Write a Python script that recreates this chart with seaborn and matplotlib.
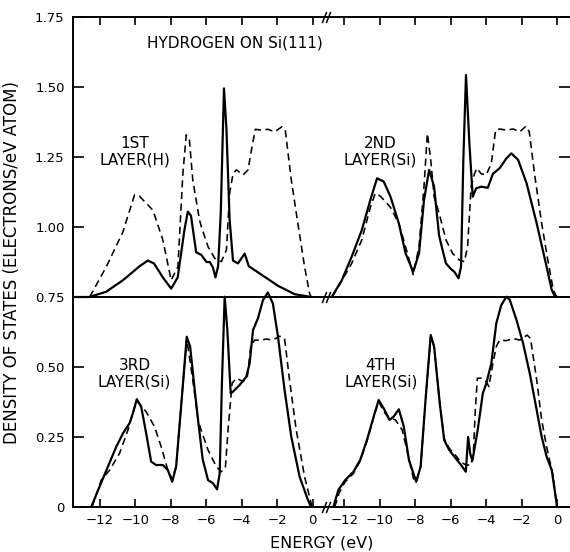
import pandas as pd
import matplotlib
matplotlib.use("Agg")
import matplotlib.pyplot as plt
import seaborn as sns

# ---- densities of states (electrons / eV atom) versus energy (eV) ----
# solid: full calculation, dashed: comparison curve
l1_solid_e = [-13.5, -12.6, -11.64, -10.7, -9.76, -9.3, -8.95, -8.45, -7.98, -7.61, -7.23, -7.04,
              -6.86, -6.57, -6.27, -5.99, -5.8, -5.62, -5.48, -5.33, -5.18, -5.0, -4.86, -4.68,
              -4.49, -4.21, -3.83, -3.6, -2.89, -1.95, -1.01, -0.08]
l1_solid_d = [0.0, 0.0, 0.019, 0.06, 0.11, 0.13, 0.12, 0.07, 0.03, 0.07, 0.24, 0.305,
              0.29, 0.16, 0.15, 0.125, 0.125, 0.105, 0.07, 0.11, 0.30, 0.745, 0.6, 0.275,
              0.13, 0.12, 0.155, 0.11, 0.08, 0.04, 0.01, 0.0]
l1_dash_e = [-12.58, -11.64, -10.7, -10.05, -9.77, -9.01, -8.45, -7.98, -7.6, -7.32, -7.13, -6.95,
             -6.76, -6.38, -6.27, -5.9, -5.52, -5.15, -4.86, -4.68, -4.49, -4.3, -3.92, -3.64,
             -3.45, -3.23, -2.89, -2.52, -2.14, -1.73, -1.54, -1.2, -0.83, -0.45, -0.17, -0.08]
l1_dash_d = [0.0, 0.108, 0.233, 0.364, 0.36, 0.31, 0.204, 0.06, 0.108, 0.44, 0.579, 0.56,
             0.418, 0.275, 0.25, 0.18, 0.138, 0.126, 0.168, 0.37, 0.44, 0.454, 0.436, 0.454,
             0.525, 0.599, 0.596, 0.599, 0.59, 0.608, 0.596, 0.418, 0.263, 0.108, 0.013, 0.0]

l2_solid_e = [-12.72, -12.15, -11.59, -11.02, -10.54, -10.16, -9.78, -9.4, -8.93, -8.55, -8.12,
              -7.79, -7.51, -7.22, -6.94, -6.66, -6.47, -6.27, -5.99, -5.8, -5.56, -5.42, -5.29,
              -5.14, -4.95, -4.76, -4.57, -4.28, -3.91, -3.62, -3.24, -2.86, -2.58, -2.2, -1.72,
              -1.15, -0.59, -0.3, -0.11, 0.0]
l2_solid_d = [0.0, 0.06, 0.144, 0.239, 0.346, 0.424, 0.412, 0.358, 0.263, 0.156, 0.09,
              0.156, 0.346, 0.454, 0.394, 0.22, 0.17, 0.12, 0.10, 0.09, 0.067, 0.108, 0.49,
              0.793, 0.55, 0.358, 0.388, 0.394, 0.39, 0.44, 0.46, 0.495, 0.513, 0.49, 0.406,
              0.263, 0.108, 0.025, 0.001, 0.0]
l2_dash_e = [-12.7, -12.34, -11.59, -11.02, -10.54, -10.26, -9.97, -9.4, -8.93, -8.55, -8.12,
             -7.79, -7.51, -7.32, -7.13, -6.94, -6.66, -6.27, -5.9, -5.52, -5.23, -5.05, -4.85,
             -4.66, -4.53, -4.28, -4.0, -3.71, -3.47, -3.24, -2.86, -2.48, -2.1, -1.76, -1.57,
             -1.25, -0.87, -0.49, -0.21, -0.02]
l2_dash_d = [0.0, 0.037, 0.12, 0.204, 0.32, 0.37, 0.36, 0.32, 0.263, 0.18, 0.08,
             0.18, 0.394, 0.584, 0.49, 0.358, 0.30, 0.204, 0.156, 0.132, 0.126, 0.18, 0.394,
             0.44, 0.46, 0.44, 0.436, 0.477, 0.596, 0.6, 0.596, 0.6, 0.59, 0.61, 0.59,
             0.43, 0.263, 0.12, 0.025, 0.0]

l3_solid_e = [-12.49, -12.02, -11.55, -11.08, -10.7, -10.33, -10.14, -9.92, -9.67, -9.39, -9.11,
              -8.83, -8.45, -8.17, -7.92, -7.7, -7.42, -7.1, -6.91, -6.65, -6.46, -6.2, -5.9,
              -5.62, -5.39, -5.24, -5.11, -4.96, -4.81, -4.62, -4.49, -4.11, -3.74, -3.55, -3.36,
              -3.08, -2.8, -2.52, -2.24, -1.95, -1.58, -1.2, -0.73, -0.26, -0.08]
l3_solid_d = [0.0, 0.073, 0.144, 0.215, 0.263, 0.299, 0.335, 0.385, 0.358, 0.263, 0.162,
              0.15, 0.15, 0.132, 0.09, 0.144, 0.358, 0.608, 0.573, 0.418, 0.31, 0.17, 0.096,
              0.085, 0.063, 0.12, 0.454, 0.751, 0.632, 0.406, 0.412, 0.436, 0.465, 0.513, 0.632,
              0.674, 0.739, 0.766, 0.727, 0.608, 0.418, 0.251, 0.108, 0.025, 0.0]
l3_dash_e = [-12.45, -11.93, -11.45, -10.89, -10.42, -10.14, -9.92, -9.39, -8.92, -8.54, -8.17,
             -7.92, -7.7, -7.42, -7.1, -6.76, -6.46, -6.29, -5.9, -5.43, -5.15, -4.92, -4.77,
             -4.54, -4.3, -3.92, -3.68, -3.49, -3.27, -2.89, -2.6, -2.24, -1.86, -1.58, -1.3,
             -0.92, -0.45, -0.08, 0.0]
l3_dash_d = [0.0, 0.096, 0.132, 0.192, 0.275, 0.335, 0.38, 0.34, 0.287, 0.215, 0.132,
             0.1, 0.144, 0.358, 0.6, 0.454, 0.31, 0.275, 0.204, 0.144, 0.126, 0.14, 0.275,
             0.442, 0.46, 0.448, 0.465, 0.573, 0.596, 0.596, 0.6, 0.596, 0.61, 0.602, 0.454,
             0.275, 0.108, 0.013, 0.0]

l4_solid_e = [-12.63, -12.34, -11.96, -11.49, -11.11, -10.73, -10.35, -10.07, -9.78, -9.46, -9.22,
              -8.93, -8.65, -8.36, -7.95, -7.7, -7.41, -7.13, -6.94, -6.62, -6.37, -6.09, -5.8,
              -5.42, -5.15, -5.02, -4.9, -4.78, -4.48, -4.19, -4.0, -3.71, -3.43, -3.15, -2.86,
              -2.67, -2.29, -1.92, -1.54, -1.15, -0.87, -0.59, -0.3, -0.11, 0.0]
l4_solid_d = [0.0, 0.061, 0.096, 0.126, 0.168, 0.239, 0.323, 0.382, 0.352, 0.311, 0.323,
              0.349, 0.287, 0.168, 0.09, 0.144, 0.394, 0.614, 0.573, 0.37, 0.239, 0.204, 0.18,
              0.15, 0.126, 0.25, 0.19, 0.165, 0.275, 0.406, 0.44, 0.513, 0.656, 0.721, 0.751,
              0.74, 0.668, 0.585, 0.477, 0.346, 0.251, 0.18, 0.132, 0.049, 0.0]
l4_dash_e = [-12.55, -12.3, -11.96, -11.49, -11.11, -10.73, -10.35, -10.07, -9.78, -9.5, -9.12,
             -8.74, -8.46, -8.1, -7.95, -7.7, -7.41, -7.13, -6.94, -6.62, -6.37, -6.09, -5.8,
             -5.42, -5.14, -4.85, -4.72, -4.61, -4.5, -4.28, -4.0, -3.85, -3.62, -3.43, -3.24,
             -2.86, -2.48, -2.1, -1.69, -1.5, -1.15, -0.87, -0.59, -0.21, -0.05, 0.0]
l4_dash_d = [0.0, 0.05, 0.09, 0.12, 0.165, 0.235, 0.32, 0.378, 0.34, 0.32, 0.311,
             0.275, 0.2, 0.1, 0.09, 0.144, 0.39, 0.61, 0.573, 0.37, 0.245, 0.21, 0.19,
             0.16, 0.15, 0.15, 0.2, 0.35, 0.46, 0.46, 0.448, 0.43, 0.513, 0.573, 0.596,
             0.594, 0.602, 0.596, 0.614, 0.602, 0.454, 0.311, 0.215, 0.108, 0.02, 0.0]

layer_names = ["1ST\nLAYER(H)", "2ND\nLAYER(Si)", "3RD\nLAYER(Si)", "4TH\nLAYER(Si)"]
energy_ticks = [-12, -10, -8, -6, -4, -2, 0]
dos_ticks = [0, 0.25, 0.50, 0.75, 1.00, 1.25, 1.50, 1.75]
dos_tick_labels = ["0", "0.25", "0.50", "0.75", "1.00", "1.25", "1.50", "1.75"]

OFFSET = 0.75   # upper pair of panels sits on this baseline
SHIFT = 13.8    # origin of the right-hand energy scale on the shared axis
BREAK = 0.75    # where the energy axis is broken

# (energy, dos, layer, calc, right-hand?, upper?)
curves = [
    (l1_solid_e, l1_solid_d, 1, "solid", False, True),
    (l1_dash_e, l1_dash_d, 1, "dashed", False, True),
    (l2_solid_e, l2_solid_d, 2, "solid", True, True),
    (l2_dash_e, l2_dash_d, 2, "dashed", True, True),
    (l3_solid_e, l3_solid_d, 3, "solid", False, False),
    (l3_dash_e, l3_dash_d, 3, "dashed", False, False),
    (l4_solid_e, l4_solid_d, 4, "solid", True, False),
    (l4_dash_e, l4_dash_d, 4, "dashed", True, False),
]
frames = []
for e, d, layer, calc, right, upper in curves:
    frames.append(pd.DataFrame({
        "x": [v + (SHIFT if right else 0.0) for v in e],
        "y": [v + (OFFSET if upper else 0.0) for v in d],
        "layer": layer,
        "calc": calc,
    }))
df = pd.concat(frames, ignore_index=True)

sns.set_style("ticks")
plt.rcParams["font.family"] = ["DejaVu Sans"]
plt.rcParams["text.color"] = "black"
plt.rcParams["axes.labelcolor"] = "black"

fig = plt.figure(figsize=(5.7, 5.52), dpi=100)
ax = fig.add_axes([73 / 570, 1 - 507 / 552, 1 - 73 / 570, 490 / 552])

ax.axhline(OFFSET, color="black", lw=1.4, zorder=1)

sns.lineplot(data=df[df.calc == "solid"], x="x", y="y", units="layer", estimator=None,
             sort=False, color="black", lw=1.6, ax=ax, legend=False)
sns.lineplot(data=df[df.calc == "dashed"], x="x", y="y", units="layer", estimator=None,
             sort=False, color="black", lw=1.15, dashes=False, ax=ax, legend=False)
for line in ax.lines[-4:]:
    line.set_dashes((4.5, 2.8))

ax.set_xlim(-13.52, 14.53)
ax.set_ylim(0, 1.75)

xt = energy_ticks + [v + SHIFT for v in energy_ticks]
ax.set_xticks(xt)
ax.set_xticklabels([str(v).replace("-", "\u2212") for v in energy_ticks] * 2)
ax.set_yticks(dos_ticks)
ax.set_yticklabels(dos_tick_labels)
ax.tick_params(axis="both", direction="in", top=True, right=True, width=1.2,
               labelsize=9.5, color="black", labelcolor="black")
ax.tick_params(axis="x", length=6, pad=5)
ax.tick_params(axis="y", length=8, pad=6)

for side in ["left", "bottom", "top"]:
    ax.spines[side].set_linewidth(1.4)
    ax.spines[side].set_color("black")
ax.spines["right"].set_visible(False)

ax.set_xlabel("ENERGY (eV)", fontsize=11.5, labelpad=6)
ax.set_ylabel("DENSITY OF STATES (ELECTRONS/eV ATOM)", fontsize=12, labelpad=10)

# axis break marks
slash = [(-0.4, -1), (0.4, 1)]
for yb in [0.0, OFFSET, 1.75]:
    ax.plot([BREAK - 0.12, BREAK + 0.12], [yb, yb], ls="none", marker=slash,
            ms=8, mew=1.1, mec="black", color="black", clip_on=False, zorder=5)

ax.text(-4.4, 1.657, "HYDROGEN ON Si(111)", fontsize=11, ha="center", va="center")
label_pos = [(-10.05, 1.27), (3.8, 1.27), (-10.05, 0.476), (3.85, 0.476)]
for (lx, ly), name in zip(label_pos, layer_names):
    ax.text(lx, ly, name, fontsize=11, ha="center", va="center", linespacing=1.15)

fig.savefig("out.png", dpi=100)
